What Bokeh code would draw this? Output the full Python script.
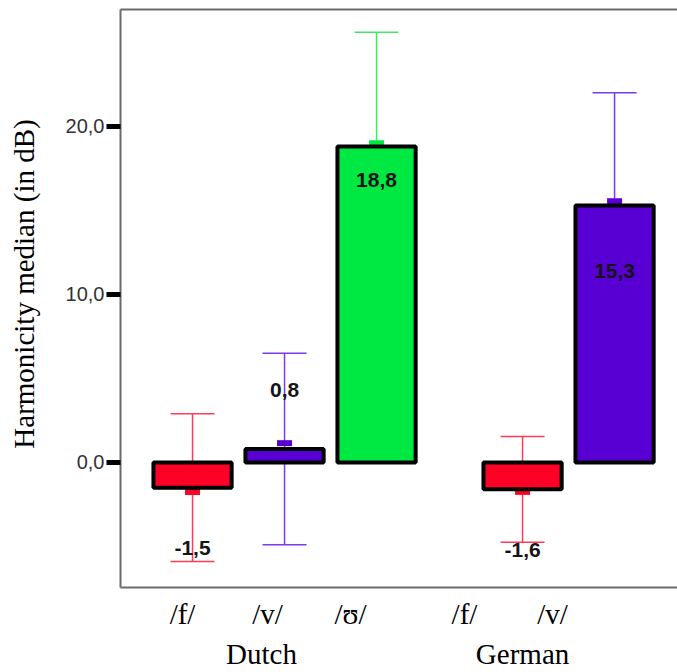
from bokeh.plotting import figure
from bokeh.models import Range1d, FixedTicker, CustomJSTickFormatter, LinearAxis
from bokeh.core.properties import value
from bokeh.embed import file_html
from bokeh.resources import INLINE

# ---------------- DATA ----------------
groups = ["Dutch", "German"]
languages = ["Dutch", "Dutch", "Dutch", "German", "German"]
phonemes = ["/f/", "/v/", "/ʊ/", "/f/", "/v/"]
medians = [-1.5, 0.8, 18.8, -1.6, 15.3]          # bar heights (dB)
errors = [4.4, 5.7, 6.8, 3.15, 6.7]              # symmetric error bar half-lengths
marks = [-1.75, 1.15, 19.0, -1.75, 15.55]        # small markers near bar ends
y_ticks = [0, 10, 20]
y_title = "Harmonicity median (in dB)"

# ---------------- LAYOUT / STYLE ----------------
fills = ["#FF0027", "#5800D4", "#00E842", "#FF0027", "#5800D4"]
whisker_colors = ["#FF3B5C", "#7B3AEE", "#3FEA63", "#FF3B5C", "#7B3AEE"]
frame_color = "#6b6b6b"
group_gap = 0.587
phoneme_label_shift = [-0.109, -0.185, -0.283, -0.631, -0.674]
group_label_shift = {"Dutch": 0.75, "German": 0.0}
value_label_y = [-5.1, 4.3, 16.8, -5.2, 11.4]
title_pad = "\u00a0" * 4   # nudges the centred axis title upward like the original

# bar x positions from category index and group
x = []
for i, lang in enumerate(languages):
    x.append(i + group_gap * groups.index(lang))
phoneme_label_x = [xi + s for xi, s in zip(x, phoneme_label_shift)]
group_label_x = [x[languages.index(g)] + group_label_shift[g] for g in groups]

p = figure(width=677, height=672, output_backend="svg", toolbar_location=None,
           x_range=Range1d(-0.783, 5.271), y_range=Range1d(-7.44, 26.96),
           x_axis_location=None, min_border_left=120, min_border_right=0,
           min_border_top=9, min_border_bottom=85)
p.grid.visible = False
p.outline_line_color = None
p.background_fill_color = "white"
p.border_fill_color = "white"

lo = [m - e for m, e in zip(medians, errors)]
hi = [m + e for m, e in zip(medians, errors)]
p.segment(x0=x, x1=x, y0=lo, y1=hi, line_color=whisker_colors, line_width=1.5)
p.scatter(x=x, y=hi, marker="dash", size=44, line_color=whisker_colors, line_width=1.5)
p.scatter(x=x, y=lo, marker="dash", size=44, line_color=whisker_colors, line_width=1.5)
p.rect(x=x, y=marks, width=15, height=6, width_units="screen", height_units="screen",
       fill_color=fills, line_color=None)
p.vbar(x=x, width=0.85, bottom=0, top=medians, fill_color=fills,
       line_color="black", line_width=4)

labels = [f"{v:.1f}".replace(".", ",") for v in medians]
p.text(x=x, y=value_label_y, text=labels, text_font=value("Liberation Sans"),
       text_font_style="bold", text_font_size="21px", text_align="center",
       text_baseline="middle", text_color="#151515")

# y axis
ya = p.yaxis[0]
ya.ticker = FixedTicker(ticks=y_ticks)
ya.formatter = CustomJSTickFormatter(code="return tick.toFixed(1).replace('.', ',');")
ya.axis_line_color = frame_color
ya.axis_line_width = 2
ya.minor_tick_line_color = None
ya.major_tick_in = 0
ya.major_tick_out = 14
ya.major_tick_line_width = 5
ya.major_tick_line_color = "black"
ya.major_label_text_font = "Liberation Sans"
ya.major_label_text_font_size = "20px"
ya.major_label_text_color = "#333333"
ya.major_label_standoff = 2
ya.axis_label = title_pad + y_title
ya.axis_label_text_font = "Liberation Serif"
ya.axis_label_text_font_style = "normal"
ya.axis_label_text_font_size = "29px"
ya.axis_label_text_color = "black"
ya.axis_label_standoff = 23

# top frame line
top = LinearAxis(ticker=FixedTicker(ticks=[]), major_label_standoff=0,
                 major_tick_out=0, major_tick_in=0, minor_tick_out=0, minor_tick_in=0,
                 axis_line_color=frame_color, axis_line_width=2)
p.add_layout(top, "above")

def label_axis(ticks, texts, standoff, line_color=None):
    ax = LinearAxis(ticker=FixedTicker(ticks=ticks),
                    formatter=CustomJSTickFormatter(args=dict(xs=ticks, labels=texts), code="""
let best = 0;
for (let i = 0; i < xs.length; i++) {
  if (Math.abs(xs[i] - tick) < Math.abs(xs[best] - tick)) best = i;
}
return labels[best];
"""))
    ax.axis_line_color = line_color
    ax.axis_line_width = 2
    ax.major_tick_line_color = None
    ax.minor_tick_line_color = None
    ax.major_tick_in = 0
    ax.major_tick_out = 0
    ax.major_label_text_font = "Liberation Serif"
    ax.major_label_text_font_size = "29px"
    ax.major_label_text_color = "black"
    ax.major_label_standoff = standoff
    return ax

p.add_layout(label_axis(phoneme_label_x, phonemes, 10, frame_color), "below")
p.add_layout(label_axis(group_label_x, groups, 5), "below")

open("out.html", "w").write(file_html(p, INLINE))
